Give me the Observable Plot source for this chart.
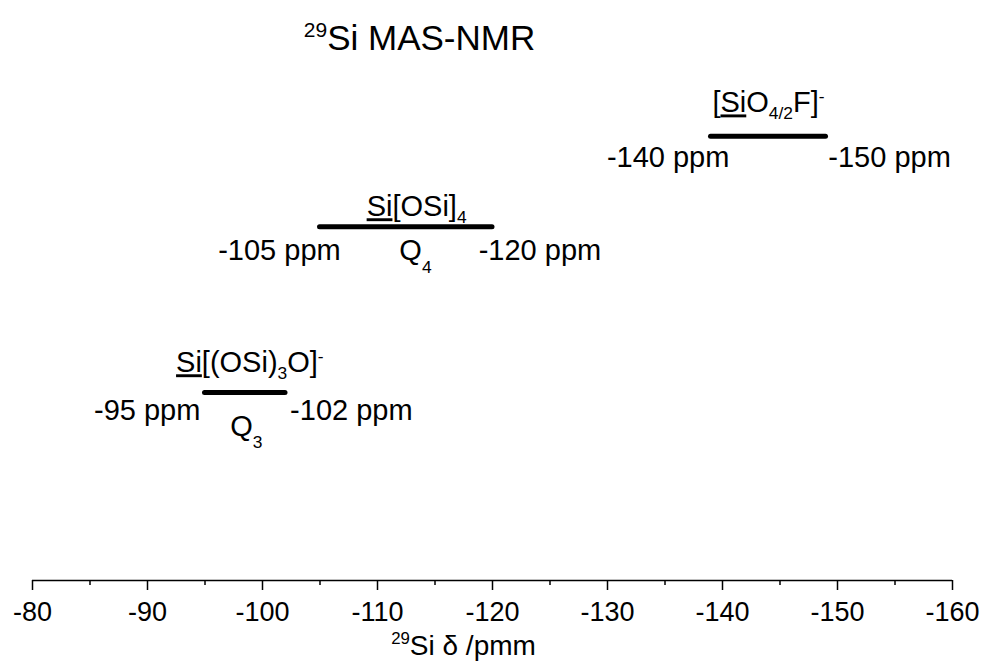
<!DOCTYPE html>
<html>
<head>
<meta charset="utf-8">
<script src="https://cdn.jsdelivr.net/npm/d3@7"></script>
<script src="https://cdn.jsdelivr.net/npm/@observablehq/plot@0.6"></script>
<style>
  html, body { margin: 0; padding: 0; background: white; }
</style>
</head>
<body>
<script>
// ---- data ----
const species    = ["[u{Si}O_{4/2}F]^{-}", "u{Si}[OSi]_{4}", "u{Si}[(OSi)_{3}O]^{-}"];
const barStart   = [-139, -105, -95];     // ppm
const barEnd     = [-149, -120, -102];    // ppm
const barLevel   = [76.6, 61.0, 32.4];    // arbitrary vertical level
const nameX      = [-144.0, -113.4, -98.9];
const nameLevel  = [80.7, 62.8, 35.9];
const leftText   = ["-140 ppm", "-105 ppm", "-95 ppm"];
const leftX      = [-140.6, -106.8, -94.6];
const rightText  = ["-150 ppm", "-120 ppm", "-102 ppm"];
const rightX     = [-149.2, -118.8, -102.4];
const ppmLevel   = [71.3, 55.2, 27.6];
const qText      = ["", "Q~{4}", "Q~{3}"];
const qX         = [null, -113.3, -98.6];
const qLevel     = [null, 55.2, 25.0];
const xTicks     = [-80, -90, -100, -110, -120, -130, -140, -150, -160];
const xMinor     = [-85, -95, -105, -115, -125, -135, -145, -155];
const titleText  = "^{29}Si MAS-NMR";
const xLabelText = "^{29}Si δ /pmm";

const bars = species.map((name, i) => ({
  name, start: barStart[i], end: barEnd[i], level: barLevel[i],
  nameX: nameX[i], nameLevel: nameLevel[i],
  left: leftText[i], leftX: leftX[i], right: rightText[i], rightX: rightX[i],
  ppmLevel: ppmLevel[i], q: qText[i], qX: qX[i], qLevel: qLevel[i]
}));

const fontFamily = "'Liberation Sans', Arial, Helvetica, sans-serif";
const FS = 27;   // tick labels
const LS = 29;   // annotation labels

const chart = Plot.plot({
  width: 982,
  height: 661,
  marginLeft: 32,
  marginRight: 30,
  marginTop: 0,
  marginBottom: 81,
  style: { fontFamily, color: "black", background: "white", overflow: "visible" },
  x: { domain: [-80, -160] },
  y: { domain: [0, 100], axis: null },
  marks: [
    Plot.ruleY([0], { strokeWidth: 1.5 }),
    Plot.axisX({ ticks: xTicks, tickSize: 10, tickPadding: 11, fontSize: FS, tickFormat: d => `${d}`, strokeWidth: 1.5 }),
    Plot.axisX({ ticks: xMinor, tickSize: 5, tickFormat: () => "", strokeWidth: 1.5 }),
    Plot.ruleY(bars, { x1: "start", x2: "end", y: "level", strokeWidth: 5, strokeLinecap: "round" }),
    Plot.text(bars, { x: "nameX", y: "nameLevel", text: "name", fontSize: LS, lineAnchor: "bottom" }),
    Plot.text(bars, { x: "leftX", y: "ppmLevel", text: "left", fontSize: LS, lineAnchor: "bottom", textAnchor: "end" }),
    Plot.text(bars, { x: "rightX", y: "ppmLevel", text: "right", fontSize: LS, lineAnchor: "bottom", textAnchor: "start" }),
    Plot.text(bars.filter(d => d.q), { x: "qX", y: "qLevel", text: "q", fontSize: LS, lineAnchor: "bottom" }),
    Plot.text([titleText], { frameAnchor: "top", dx: -73, dy: 49, fontSize: 35, lineAnchor: "bottom" }),
    Plot.text([xLabelText], { frameAnchor: "bottom", dx: -29, dy: 74, fontSize: 28, lineAnchor: "bottom" })
  ]
});

document.body.append(chart);

// rich text: u{..} underline, _{..} subscript, ~{..} deep subscript, ^{..} superscript
function richify(el) {
  const src = el.textContent;
  if (!/[u_~^]\{/.test(src)) return;
  const fs = parseFloat(getComputedStyle(el).fontSize) || FS;
  const re = /([u_~^])\{([^}]*)\}/g;
  const segs = [];
  let last = 0, m;
  while ((m = re.exec(src))) {
    if (m.index > last) segs.push({ type: "", text: src.slice(last, m.index) });
    segs.push({ type: m[1], text: m[2] });
    last = re.lastIndex;
  }
  if (last < src.length) segs.push({ type: "", text: src.slice(last) });
  el.textContent = "";
  let shift = 0;
  for (const s of segs) {
    const t = document.createElementNS("http://www.w3.org/2000/svg", "tspan");
    t.textContent = s.text;
    let target = 0;
    if (s.type === "_") target = 0.22 * fs;
    else if (s.type === "~") target = 0.42 * fs;
    else if (s.type === "^") target = -0.36 * fs;
    if (target !== shift) { t.setAttribute("dy", target - shift); shift = target; }
    if (s.type === "_" || s.type === "~" || s.type === "^") t.setAttribute("font-size", 0.6 * fs);
    if (s.type === "u") t.setAttribute("text-decoration", "underline");
    el.appendChild(t);
  }
}
chart.querySelectorAll("text").forEach(richify);
</script>
</body>
</html>
